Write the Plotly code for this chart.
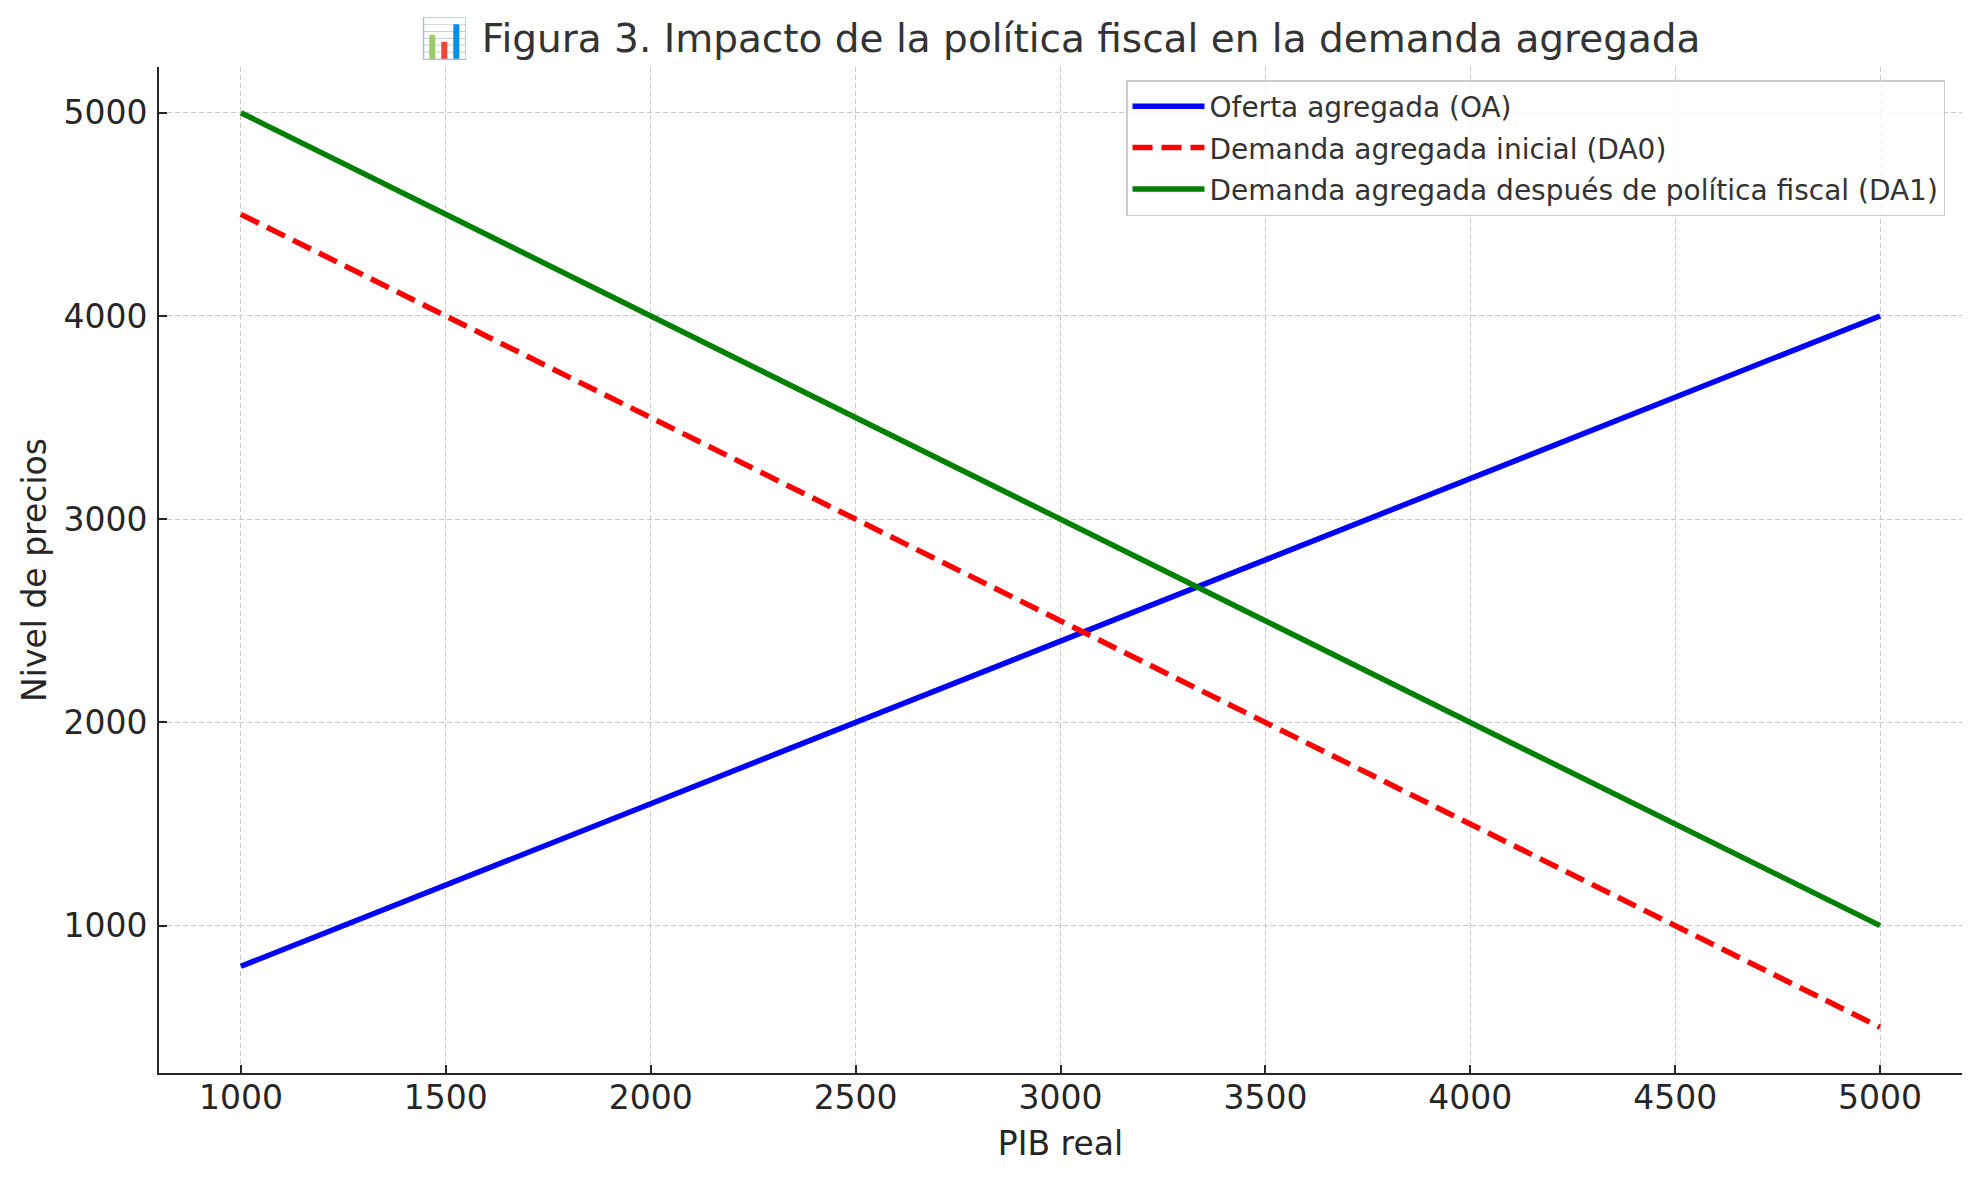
import plotly.graph_objects as go

# Data
pib_real = [1000, 1500, 2000, 2500, 3000, 3500, 4000, 4500, 5000]
oferta_oa = [800, 1200, 1600, 2000, 2400, 2800, 3200, 3600, 4000]
demanda_da0 = [4500, 4000, 3500, 3000, 2500, 2000, 1500, 1000, 500]
demanda_da1 = [5000, 4500, 4000, 3500, 3000, 2500, 2000, 1500, 1000]

x_ticks = [1000, 1500, 2000, 2500, 3000, 3500, 4000, 4500, 5000]
y_ticks = [1000, 2000, 3000, 4000, 5000]

names = [
    "Oferta agregada (OA)",
    "Demanda agregada inicial (DA0)",
    "Demanda agregada después de política fiscal (DA1)",
]

FONT = "DejaVu Sans"
W, H = 1979, 1180
L, R, T, B = 159, 17, 67, 107

fig = go.Figure()
fig.add_trace(go.Scatter(x=pib_real, y=oferta_oa, mode="lines", name=names[0], legendgroup="a",
                         line=dict(color="#0000ff", width=5.5)))
fig.add_trace(go.Scatter(x=pib_real, y=demanda_da0, mode="lines", name=names[1], legendgroup="b",
                         line=dict(color="#ff0000", width=5.5, dash="20px,9px")))
fig.add_trace(go.Scatter(x=pib_real, y=demanda_da1, mode="lines", name=names[2], legendgroup="c",
                         line=dict(color="#008000", width=5.5)))

axis_common = dict(
    showline=True, linecolor="#262626", linewidth=2,
    ticks="inside", ticklen=8, tickwidth=2, tickcolor="#262626",
    showgrid=True, gridcolor="#c8c8c8", gridwidth=1.4, griddash="5px,3px",
    zeroline=False, mirror=False,
    tickfont=dict(family=FONT, size=33, color="#262626"),
)

plot_w = W - L - R
plot_h = H - T - B

fig.update_layout(
    width=W, height=H,
    margin=dict(l=L, r=R, t=T, b=B, pad=0),
    paper_bgcolor="white", plot_bgcolor="white",
    font=dict(family=FONT, color="#262626"),
    title=dict(
        text="📊 Figura 3. Impacto de la política fiscal en la demanda agregada",
        font=dict(family=FONT, size=39, color="#333333"),
        x=0.5, xref="paper", xanchor="center",
        y=1 - 38 / H, yref="container", yanchor="middle",
    ),
    xaxis=dict(
        **axis_common,
        range=[800, 5200], tickvals=x_ticks,
        ticklabelstandoff=-6,
        title=dict(text="PIB real", font=dict(family=FONT, size=33, color="#262626"), standoff=16),
    ),
    yaxis=dict(
        **axis_common,
        range=[275, 5225], tickvals=y_ticks,
        ticklabelstandoff=3,
        title=dict(text="Nivel de precios", font=dict(family=FONT, size=33, color="#262626"), standoff=7),
    ),
    legend=dict(
        x=(1945 - L) / plot_w, xanchor="right",
        y=(H - B - 80) / plot_h, yanchor="top",
        bgcolor="rgba(255,255,255,0.8)",
        bordercolor="#cccccc", borderwidth=1.5,
        font=dict(family=FONT, size=28, color="#333333"),
        itemwidth=72, tracegroupgap=2,
    ),
)

fig.write_html("out.html")
